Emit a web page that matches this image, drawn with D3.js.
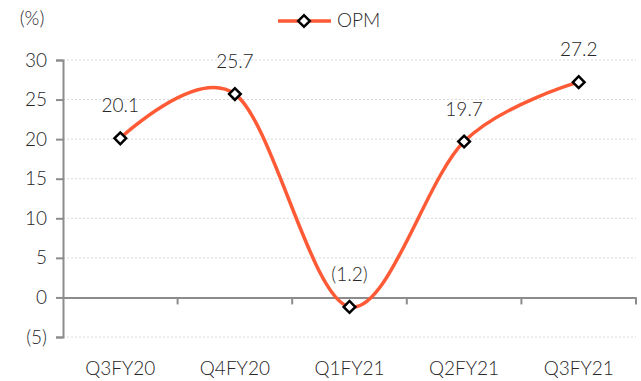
<!DOCTYPE html>
<html>
<head>
<meta charset="utf-8">
<script src="https://cdn.jsdelivr.net/npm/d3@7"></script>
<style>
    body { margin: 0; background: #fff; }
    text { font-family: Lato, "Open Sans", sans-serif; font-weight: 300; fill: #262626; }
</style>
</head>
<body>
<div id="chart"></div>
<script>
// chart data
let quarters = ["Q3FY20", "Q4FY20", "Q1FY21", "Q2FY21", "Q3FY21"];
let opm = [20.1, 25.7, -1.2, 19.7, 27.2];
let yTicks = [-5, 0, 5, 10, 15, 20, 25, 30];

let width = 641, height = 381;
let margin = {top: 60, right: 5, bottom: 44, left: 63};
let lineColor = "#FF5A36";
let fontSize = "19px";

let svg = d3.select("#chart").append("svg")
    .attr("width", width)
    .attr("height", height);

let x = d3.scaleBand()
    .domain(quarters)
    .range([margin.left, width - margin.right]);

let y = d3.scaleLinear()
    .domain([-5, 30])
    .range([height - margin.bottom, margin.top]);

let fmt = v => v < 0 ? "(" + Math.abs(v) + ")" : "" + v;

// gridlines
svg.append("g")
    .selectAll("line")
    .data(yTicks)
    .enter().append("line")
    .attr("x1", margin.left)
    .attr("x2", width - margin.right)
    .attr("y1", d => y(d))
    .attr("y2", d => y(d))
    .attr("stroke", "#d9d9d9")
    .attr("stroke-dasharray", "2,2");

// y axis
let yAxis = svg.append("g")
    .attr("transform", `translate(${margin.left},0)`)
    .call(d3.axisLeft(y).tickValues(yTicks).tickFormat(fmt).tickSize(7).tickSizeOuter(7).tickPadding(9));
yAxis.select(".domain").attr("stroke", "#8c8c8c").attr("stroke-width", 2);
yAxis.selectAll(".tick line").attr("stroke", "#8c8c8c").attr("stroke-width", 2);
yAxis.selectAll(".tick text").style("font-size", fontSize).attr("fill", "#262626");

// x axis at zero
let xAxis = svg.append("g")
    .attr("transform", `translate(0,${y(0)})`)
    .call(d3.axisBottom(x).tickSize(0).tickSizeOuter(0).tickFormat(""));
xAxis.select(".domain").attr("stroke", "#8c8c8c").attr("stroke-width", 2);

svg.append("g")
    .selectAll("line")
    .data(quarters)
    .enter().append("line")
    .attr("x1", d => x(d) + x.bandwidth())
    .attr("x2", d => x(d) + x.bandwidth())
    .attr("y1", y(0))
    .attr("y2", y(0) + 7)
    .attr("stroke", "#8c8c8c")
    .attr("stroke-width", 2);

svg.append("g")
    .selectAll("text")
    .data(quarters)
    .enter().append("text")
    .attr("x", d => x(d) + x.bandwidth() / 2)
    .attr("y", height - margin.bottom + 38)
    .attr("text-anchor", "middle")
    .style("font-size", fontSize)
    .text(d => d);

// unit label
svg.append("text")
    .attr("x", 32)
    .attr("y", 25)
    .attr("text-anchor", "middle")
    .style("font-size", fontSize)
    .text("(%)");

// line
let line = d3.line()
    .x((d, i) => x(quarters[i]) + x.bandwidth() / 2)
    .y(d => y(d))
    .curve(d3.curveCardinal.tension(0));

svg.append("path")
    .datum(opm)
    .attr("d", line)
    .attr("fill", "none")
    .attr("stroke", lineColor)
    .attr("stroke-width", 3.5);

let diamond = d3.symbol().type(d3.symbolSquare).size(68);

svg.append("g")
    .selectAll("path")
    .data(opm)
    .enter().append("path")
    .attr("d", diamond)
    .attr("transform", (d, i) => `translate(${x(quarters[i]) + x.bandwidth() / 2},${y(d)}) rotate(45)`)
    .attr("fill", "#fff")
    .attr("stroke", "#000")
    .attr("stroke-width", 2.5);

// data labels
svg.append("g")
    .selectAll("text")
    .data(opm)
    .enter().append("text")
    .attr("x", (d, i) => x(quarters[i]) + x.bandwidth() / 2)
    .attr("y", d => y(d) - 26)
    .attr("text-anchor", "middle")
    .style("font-size", fontSize)
    .text(d => fmt(d));

// legend
let legend = svg.append("g").attr("transform", "translate(278,21)");
legend.append("line")
    .attr("x1", 0).attr("x2", 53)
    .attr("stroke", lineColor)
    .attr("stroke-width", 3.5);
legend.append("path")
    .attr("d", diamond)
    .attr("transform", "translate(26,0) rotate(45)")
    .attr("fill", "#fff")
    .attr("stroke", "#000")
    .attr("stroke-width", 2.5);
legend.append("text")
    .attr("x", 59)
    .attr("y", 6)
    .style("font-size", fontSize)
    .text("OPM");
</script>
</body>
</html>
